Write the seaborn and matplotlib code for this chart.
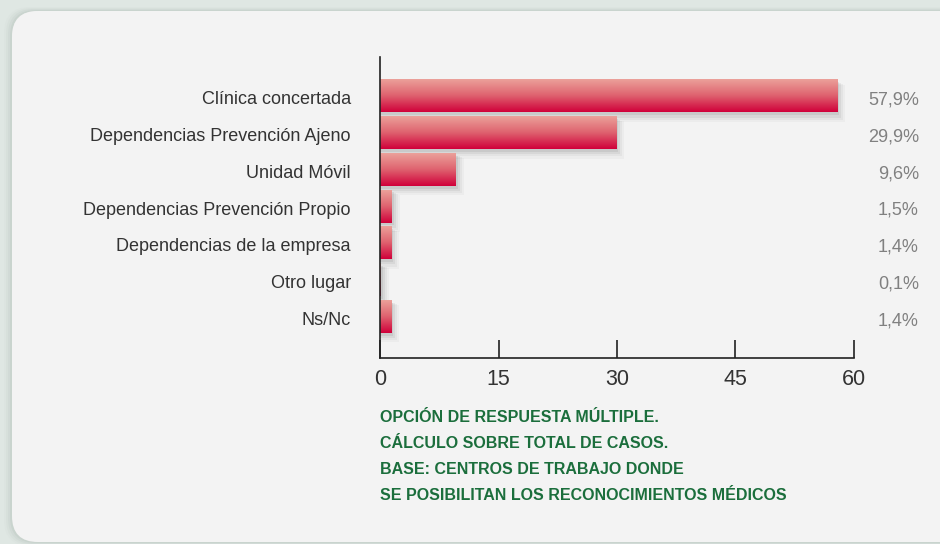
import numpy as np
import pandas as pd
import matplotlib
matplotlib.use("Agg")
import matplotlib.pyplot as plt
import matplotlib.transforms as mtransforms
import seaborn as sns
from matplotlib.patches import FancyBboxPatch, Rectangle
from matplotlib.colors import LinearSegmentedColormap

# data
lugares = ["Clínica concertada", "Dependencias Prevención Ajeno", "Unidad Móvil",
           "Dependencias Prevención Propio", "Dependencias de la empresa",
           "Otro lugar", "Ns/Nc"]
porcentajes = [57.9, 29.9, 9.6, 1.5, 1.4, 0.1, 1.4]
etiquetas = ["57,9%", "29,9%", "9,6%", "1,5%", "1,4%", "0,1%", "1,4%"]
ticks_x = [0, 15, 30, 45, 60]
nota = ["OPCIÓN DE RESPUESTA MÚLTIPLE.",
        "CÁLCULO SOBRE TOTAL DE CASOS.",
        "BASE: CENTROS DE TRABAJO DONDE",
        "SE POSIBILITAN LOS RECONOCIMIENTOS MÉDICOS"]

df = pd.DataFrame({"lugar": lugares, "pct": porcentajes})

sns.set_theme(style="white")
plt.rcParams["font.family"] = ["Liberation Sans", "DejaVu Sans"]

W, H = 940, 544
fig = plt.figure(figsize=(W / 100, H / 100), dpi=100)
fig.patch.set_facecolor("#dfe7e3")

# background card (pixel coordinates)
bg = fig.add_axes([0, 0, 1, 1], zorder=0)
for i, a in enumerate([0.10, 0.07, 0.05, 0.03]):
    sh = FancyBboxPatch((12 - 2 - i * 2, 11 - 1 - i), 1000, 533 + i * 2,
                        boxstyle="round,pad=0,rounding_size=26",
                        fc="#8a9a92", ec="none", alpha=a)
    bg.add_patch(sh)
card = FancyBboxPatch((12, 11), 1000, 531, boxstyle="round,pad=0,rounding_size=26",
                      fc="#f3f3f3", ec="none")
bg.add_patch(card)
grad = np.linspace(0, 1, 256).reshape(-1, 1)
card_cmap = LinearSegmentedColormap.from_list("card", ["#fefefe", "#f1f1f1", "#e7e8e8"])
im = bg.imshow(grad, cmap=card_cmap, extent=[12, 1012, 542, 11], aspect="auto")
im.set_clip_path(card)
bg.set_xlim(0, W)
bg.set_ylim(H, 0)
bg.axis("off")

# footnote
for k, linea in enumerate(nota):
    bg.text(380, 418 + k * 25.7, linea, color="#1b6e3c", fontsize=11.5,
            fontweight="bold", va="center", ha="left")

# main axes: x 0..60 -> px 380..854, axis top 57, bottom 358
ax = fig.add_axes([380 / W, 1 - 358 / H, (854 - 380) / W, (358 - 57) / H], zorder=1)
ax.patch.set_alpha(0)

sns.barplot(data=df, x="pct", y="lugar", orient="h", width=0.9,
            color="#d10039", ax=ax, saturation=1, linewidth=0, edgecolor="none")

bar_cmap = LinearSegmentedColormap.from_list("bar", ["#eca59d", "#df6470", "#d0003a"])
for p in ax.patches:
    x0, y0 = p.get_x(), p.get_y()
    w, h = p.get_width(), p.get_height()
    # soft shadow
    for j, a in enumerate([0.10, 0.08, 0.06, 0.04]):
        ax.add_patch(Rectangle((x0, y0 + 0.08 + j * 0.02), w + 0.25 + j * 0.25, h + j * 0.04,
                               fc="#555555", ec="none", alpha=a, zorder=1))
    p.set_facecolor("none")
    p.set_edgecolor("none")
    p.set_linewidth(0)
    p.set_zorder(3)
    gi = ax.imshow(grad, cmap=bar_cmap, extent=[x0, x0 + w, y0 + h, y0],
                   aspect="auto", zorder=2)
    gi.set_clip_path(p)

ax.set_xlim(0, 60)
ax.set_ylim(7.14, -1.06)
ax.set_xticks(ticks_x)
ax.set_xlabel("")
ax.set_ylabel("")
ax.tick_params(axis="x", bottom=True, direction="in", length=13, width=1.2, color="#222222",
               labelsize=15.5, labelcolor="#333333", pad=8)
ax.tick_params(axis="y", left=False, length=0, labelsize=13, labelcolor="#333333", pad=21)
shift = mtransforms.ScaledTranslation(0, -4 / 100, fig.dpi_scale_trans)
for lab in ax.get_yticklabels():
    lab.set_va("center")
    lab.set_transform(lab.get_transform() + shift)
for s in ["top", "right"]:
    ax.spines[s].set_visible(False)
for s in ["left", "bottom"]:
    ax.spines[s].set_color("#222222")
    ax.spines[s].set_linewidth(1.2)

for i, t in enumerate(etiquetas):
    ax.text(68.2, i + 0.12, t, ha="right", va="center", fontsize=13,
            color="#808080", clip_on=False)

fig.savefig("out.png", dpi=100)
